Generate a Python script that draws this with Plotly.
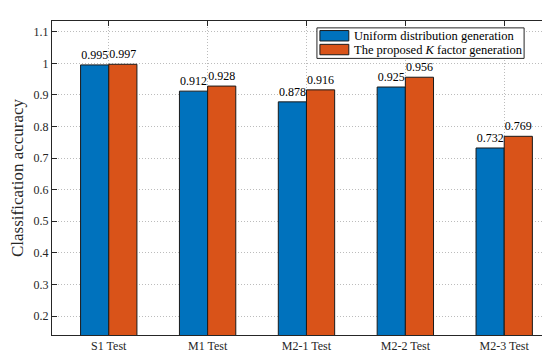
import plotly.graph_objects as go

categories = ["S1 Test", "M1 Test", "M2-1 Test", "M2-2 Test", "M2-3 Test"]
uniform = [0.995, 0.912, 0.878, 0.925, 0.732]
proposed = [0.997, 0.928, 0.916, 0.956, 0.769]
series_names = ["Uniform distribution generation", "The proposed <i>K</i> factor generation"]
series_colors = ["#0072BD", "#D95319"]
y_ticks = [0.2, 0.3, 0.4, 0.5, 0.6, 0.7, 0.8, 0.9, 1.0, 1.1]
y_ticktext = ["0.2", "0.3", "0.4", "0.5", "0.6", "0.7", "0.8", "0.9", "1", "1.1"]

FONT = "Liberation Serif"
AXC = "#262626"
EDGE = "#1a1a1a"

fig = go.Figure()
for name, vals, col in zip(series_names, [uniform, proposed], series_colors):
    fig.add_trace(go.Bar(
        x=categories, y=vals, name=name,
        marker=dict(color=col, line=dict(color=EDGE, width=1)),
        text=[f"{v:.3f}" for v in vals], textposition="outside",
        textfont=dict(family=FONT, size=12, color="#000000"),
        cliponaxis=False, showlegend=False,
    ))

# custom compact legend (MATLAB style), in paper coordinates
L, R, T, B = 43, 542, 13, 332
def px(x):
    return (x - L) / (R - L)
def py(y):
    return (B - y) / (B - T)

shapes = [dict(type="rect", xref="paper", yref="paper",
               x0=px(309), x1=px(517), y0=py(51), y1=py(20),
               fillcolor="white", line=dict(color=AXC, width=1), layer="above")]
annotations = []
rows = [(22.7, 33.3), (36.7, 47.3)]
for (y0, y1), name, col in zip(rows, series_names, series_colors):
    shapes.append(dict(type="rect", xref="paper", yref="paper",
                       x0=px(312), x1=px(341), y0=py(y1), y1=py(y0),
                       fillcolor=col, line=dict(color=EDGE, width=1), layer="above"))
    annotations.append(dict(xref="paper", yref="paper", x=px(344), y=py((y0 + y1) / 2),
                            xanchor="left", yanchor="middle", showarrow=False,
                            text=name, font=dict(family=FONT, size=12.5, color="#000000")))

fig.update_layout(
    width=550, height=353,
    margin=dict(l=L, r=550 - R, t=T, b=353 - B),
    paper_bgcolor="white", plot_bgcolor="white",
    barmode="group", bargap=0.43, bargroupgap=0,
    font=dict(family=FONT, size=12, color=AXC),
    showlegend=False,
    shapes=shapes, annotations=annotations,
    xaxis=dict(range=[-0.574, 4.453], showline=True, linecolor=AXC, linewidth=1,
               mirror="ticks", ticks="inside", ticklen=5, tickcolor=AXC,
               showgrid=True, gridcolor="#bcbcbc", griddash="1px,2px", gridwidth=1,
               tickfont=dict(family=FONT, size=12, color=AXC)),
    yaxis=dict(range=[0.14, 1.134], tickvals=y_ticks, ticktext=y_ticktext,
               showline=True, linecolor=AXC, linewidth=1,
               mirror="ticks", ticks="inside", ticklen=5, tickcolor=AXC,
               showgrid=True, gridcolor="#bcbcbc", griddash="1px,2px", gridwidth=1,
               zeroline=False,
               title=dict(text="Classification accuracy", font=dict(family=FONT, size=17, color=AXC),
                          standoff=6),
               tickfont=dict(family=FONT, size=12, color=AXC)),
)

fig.write_html("out.html")
